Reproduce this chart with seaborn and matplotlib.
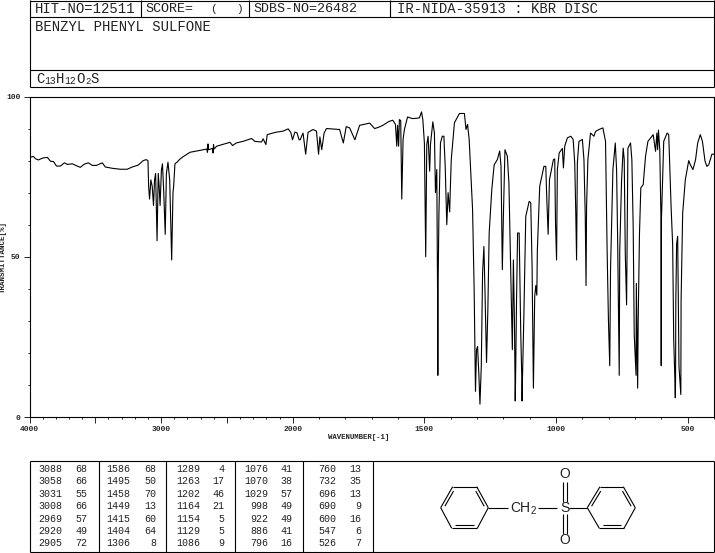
import numpy as np
import pandas as pd
import matplotlib
matplotlib.use("Agg")
import matplotlib.pyplot as plt
import seaborn as sns

# Spectrum, one pair of lists per region
wn_baseline = [4000, 3970, 3955, 3932, 3900, 3864, 3841, 3818, 3795, 3765, 3735, 3712, 3674, 3644, 3614,
               3583, 3553, 3523, 3492, 3447, 3424, 3371, 3310, 3258, 3220, 3174, 3136, 3114, 3100]
t_baseline = [81, 81.3, 80.6, 80.2, 80.8, 81, 79.8, 79.7, 78.3, 78.3, 79.3, 78.8, 79, 78.4, 77.9,
              78.9, 79.3, 78.5, 78.5, 79.3, 78, 77.6, 77.3, 77.3, 78, 78.6, 80, 80.3, 80]

wn_ch = [3095, 3088, 3078, 3068, 3058, 3050, 3042, 3031, 3022, 3015, 3008, 2998, 2990, 2980, 2969,
         2960, 2948, 2935, 2920, 2910, 2905, 2895, 2880, 2856, 2830, 2780, 2705]
t_ch = [72, 68, 74, 72, 66, 74, 76, 55, 76, 72, 66, 77, 79, 70, 57,
        76, 79.5, 74, 49, 70, 72, 79, 79.5, 80.5, 81.3, 82.6, 83.2]

wn_mid = [2654, 2648, 2644, 2640, 2610, 2606, 2602, 2598, 2578, 2477, 2457, 2430, 2378, 2313, 2288,
          2237, 2225, 2204, 2194, 2134, 2073, 2035, 2015, 2002, 1992, 1984, 1976, 1972, 1961, 1951,
          1942, 1923, 1910, 1902, 1897, 1890, 1881, 1872, 1822, 1808, 1797, 1784, 1764, 1746, 1708,
          1689, 1674, 1658, 1635]
t_mid = [83.6, 82.6, 85.2, 83.4, 83.8, 82.4, 85, 83.6, 84.5, 85.7, 84.7, 85.5, 86, 86.9, 86,
         85.8, 86.8, 85, 88.1, 88.8, 89.2, 89.9, 88.8, 86.5, 88.9, 88.7, 86.5, 86.5, 88.6, 82,
         88.8, 89.7, 89.2, 82, 87.4, 83.4, 88.6, 90, 89.7, 85.5, 90.6, 90.2, 86.5, 91, 91.7,
         90, 90.4, 91, 92.2]

wn_fp1 = [1620, 1610, 1605, 1602, 1598, 1595, 1590, 1586, 1581, 1576, 1564, 1545, 1519, 1511, 1506,
          1500, 1495, 1491, 1486, 1480, 1477, 1468, 1462, 1458, 1453, 1450, 1449, 1448, 1445, 1439,
          1432, 1426, 1421, 1415, 1410, 1404, 1402, 1398, 1386, 1367, 1348, 1342, 1336, 1330, 1317,
          1311, 1306, 1302, 1298, 1293, 1289, 1284, 1279, 1274, 1270, 1264, 1259, 1254, 1244, 1235,
          1223, 1214]
t_fp1 = [92.6, 91.3, 84.5, 91, 84.5, 92.8, 92.5, 68, 86.6, 89.7, 93.6, 93.1, 93.3, 95.2, 92.8,
         85.5, 50, 85, 87.6, 76.7, 85, 92.1, 88.6, 70, 77.2, 38, 13, 40, 62.6, 85.5,
         87.6, 87.6, 78.2, 60, 70, 64, 70, 80.3, 91.8, 94.7, 94.7, 89.7, 91.3, 86.6, 64.7,
         39.6, 8, 21, 22, 13, 4, 15.7, 45, 53.2, 39.6, 17, 33.4, 57.4, 71, 78.7,
         80.3, 83]

wn_fp2 = [1209, 1204, 1200, 1194, 1185, 1179, 1172, 1166, 1162, 1158, 1156, 1155, 1154, 1150, 1146,
          1140, 1134, 1130, 1129, 1128, 1122, 1115, 1102, 1096, 1091, 1086, 1081, 1077, 1073, 1071,
          1062, 1046, 1039, 1035, 1030, 1025, 1010, 1005, 1002, 998, 995, 988, 976, 972, 967,
          957, 944, 935, 929, 925, 922, 919, 913, 900, 894, 889, 886, 884, 879, 869,
          856, 850, 837, 822]
t_fp2 = [78.2, 46, 62.6, 83.4, 81.4, 73, 45, 21, 49, 30, 12, 5, 10, 36.5, 57.4,
         57.4, 26, 12, 5, 10, 32.4, 62.6, 67.3, 66.8, 47, 9, 37.6, 41, 38, 52,
         72, 78.2, 78.2, 67.8, 57, 74, 80.3, 80.5, 60.5, 49, 77.2, 82.4, 83.8, 77.7, 84.5,
         87.1, 87.6, 86.6, 79.3, 63.6, 49, 79.3, 86, 86.6, 80.3, 62.6, 41, 65.7, 80.3, 88.6,
         87.6, 89.1, 89.7, 90.2]

wn_fp3 = [812, 806, 801, 796, 793, 784, 775, 770, 766, 760, 758, 751, 745, 741, 737,
          732, 727, 717, 712, 707, 703, 696, 695, 690, 688, 683, 678, 669, 660, 651,
          631, 622, 617, 614, 611, 606, 601.5, 600.5, 599.5, 591, 578, 572, 563, 557, 553,
          548, 547, 546, 545, 542, 538, 533, 526, 525, 519, 509, 496, 490, 480, 470,
          462, 452, 444, 434, 427, 420, 408, 400]
t_fp3 = [86, 52, 30.3, 16, 46, 77.2, 85.5, 77.2, 55.3, 13, 52, 74, 83.9, 80.3, 51,
         35, 83.9, 85.5, 80.3, 59.5, 25.6, 13, 41.7, 9, 30, 57.4, 71.5, 72.5, 81.4, 86,
         88.1, 82.9, 88.6, 83.4, 89.5, 83.4, 62, 16, 62, 86, 88.6, 88.1, 65.7, 53.7, 24,
         10, 6, 12, 36.5, 54, 56.4, 15.7, 7, 36.5, 63.6, 74, 80, 78.7, 77.2, 80.3,
         85.5, 88.1, 86, 79.8, 78.2, 78.7, 82, 82]

# Peak table, read down each of the five columns
peak_wn = [3088, 3058, 3031, 3008, 2969, 2920, 2905,
           1586, 1495, 1458, 1449, 1415, 1404, 1306,
           1289, 1263, 1202, 1164, 1154, 1129, 1086,
           1076, 1070, 1029, 998, 922, 886, 796,
           760, 732, 696, 690, 600, 547, 526]
peak_t = [68, 66, 55, 66, 57, 49, 72,
          68, 50, 70, 13, 60, 64, 8,
          4, 17, 46, 21, 5, 5, 9,
          41, 38, 57, 49, 49, 41, 16,
          13, 35, 13, 9, 16, 6, 7]

x_major = [4000, 3500, 3000, 2500, 2000, 1500, 1000, 500]
x_labels = ["4000", "", "3000", "", "2000", "1500", "1000", "500"]
x_minor = list(range(3900, 400, -100)) + [400]
y_major = [0, 50, 100]
y_minor = [10, 20, 30, 40, 60, 70, 80, 90]

W, H = 715, 553
mono = "Liberation Mono"

sns.set_style("white")
plt.rcParams["font.family"] = [mono, "DejaVu Sans"]

spectrum = pd.DataFrame({
    "wavenumber": wn_baseline + wn_ch + wn_mid + wn_fp1 + wn_fp2 + wn_fp3,
    "transmittance": t_baseline + t_ch + t_mid + t_fp1 + t_fp2 + t_fp3,
})


# The x axis is twice as compressed above 2000 cm-1
def forward(x):
    x = np.asarray(x, dtype=float)
    return np.where(x < 2000, x, 2000 + (x - 2000) * 0.5)


def inverse(x):
    x = np.asarray(x, dtype=float)
    return np.where(x < 2000, x, 2000 + (x - 2000) * 2)


fig = plt.figure(figsize=(W / 100, H / 100), dpi=100, facecolor="white")

# Overlay in pixel coordinates for the header boxes, peak table and structure
over = fig.add_axes([0, 0, 1, 1], zorder=0)
over.set_xlim(0, W)
over.set_ylim(H, 0)
over.axis("off")


def seg(x0, y0, x1, y1, lw=0.8):
    over.plot([x0, x1], [y0, y1], color="black", lw=lw, solid_capstyle="butt")


def txt(x, y, s, size=10, ha="left", **kw):
    over.text(x, y, s, fontsize=size, ha=ha, va="center", color="#222222", **kw)


# Header
for y in [0.5, 17, 69.5, 87]:
    seg(29.5, y, 714, y)
seg(29.5, 0, 29.5, 87)
seg(714, 0, 714, 87)
for x in [140.7, 248.7, 390]:
    seg(x, 0, x, 17)
txt(35, 9, "HIT-NO=12511")
txt(145, 9, "SCORE=", size=9.6)
txt(210, 9, "(", size=8)
txt(236, 9, ")", size=8)
txt(253, 9, "SDBS-NO=26482", size=9.6)
txt(397, 9, "IR-NIDA-35913 : KBR DISC")
txt(35, 27, "BENZYL PHENYL SULFONE")
for x, y, s, size in [(36, 79, "C", 10), (44, 81.5, "13", 7), (56, 79, "H", 10), (64.5, 81.5, "12", 7),
                      (76.5, 79, "O", 10), (85, 81.5, "2", 6.5), (90.5, 79, "S", 10)]:
    txt(x, y, s, size=size)

# Peak table
for y in [460.7, 552.3]:
    seg(29.5, y, 714, y)
for x in [29.5, 98.7, 166.3, 235.3, 303.3, 372.7, 714]:
    seg(x, 460.7, x, 552.3)
wn_right = [62.7, 130, 200, 268.3, 336]
t_right = [87.3, 156, 224, 292.3, 361.7]
row_y = [469.3, 481.3, 494, 506, 518.7, 530.7, 543.3]
for i in range(len(peak_wn)):
    col, row = i // 7, i % 7
    txt(wn_right[col], row_y[row], str(peak_wn[i]), size=7.2, ha="right")
    txt(t_right[col], row_y[row], str(peak_t[i]), size=7.2, ha="right")

# Structure
left_ring = [(440.7, 507.7), (452.7, 486.7), (476.7, 486.7), (488.3, 507.7), (477.3, 528.3), (451.7, 528.3)]
right_ring = [(587.3, 507.7), (600, 486.7), (623.3, 486.7), (635.3, 507.7), (624, 528.3), (599.3, 528.3)]
for ring, doubles in [(left_ring, [0, 2, 4]), (right_ring, [0, 2, 4])]:
    cx = sum(p[0] for p in ring) / 6
    cy = sum(p[1] for p in ring) / 6
    for i in range(6):
        a, b = ring[i], ring[(i + 1) % 6]
        seg(a[0], a[1], b[0], b[1])
        if i in doubles:
            # inner line of the double bond, pulled towards the ring centre
            f = 0.86
            ax_, ay_ = cx + (a[0] - cx) * f, cy + (a[1] - cy) * f
            bx_, by_ = cx + (b[0] - cx) * f, cy + (b[1] - cy) * f
            seg(ax_ + (bx_ - ax_) * 0.08, ay_ + (by_ - ay_) * 0.08,
                bx_ - (bx_ - ax_) * 0.08, by_ - (by_ - ay_) * 0.08)
seg(488.3, 507.7, 507.7, 507.7)
seg(537.7, 507.7, 557.3, 507.7)
seg(569, 507.7, 587.3, 507.7)
for x in [562.7, 566.7]:
    seg(x, 481.7, x, 501.7)
    seg(x, 514, x, 534)
sans = "Liberation Sans"
txt(510, 507.5, "CH", size=10, family=sans)
txt(530.5, 511.5, "2", size=7, family=sans)
txt(564.7, 507.5, "S", size=10, ha="center", family=sans)
txt(564.7, 474.5, "O", size=10, ha="center", family=sans)
txt(564.7, 540, "O", size=10, ha="center", family=sans)

# Axis titles
txt(328, 437.5, "WAVENUMBER[-1]", size=5.3, fontweight="bold")
over.text(3.5, 257, "TRANSMITTANCE[%]", fontsize=5.4, fontweight="bold", rotation=90,
          ha="center", va="center", color="#222222")

# Spectrum
ax = fig.add_axes([29.5 / W, 1 - 417 / H, (714 - 29.5) / W, (417 - 96.5) / H], zorder=1)
ax.patch.set_alpha(0)
sns.lineplot(data=spectrum, x="wavenumber", y="transmittance", sort=False, estimator=None,
             color="black", lw=0.8, ax=ax)
ax.set_xscale("function", functions=(forward, inverse))
ax.set_xlim(4000, 400)
ax.set_ylim(0, 100)
ax.set_xlabel("")
ax.set_ylabel("")
for s in ax.spines.values():
    s.set_visible(True)
    s.set_color("black")
    s.set_linewidth(0.8)
ax.set_xticks(x_major)
ax.set_xticklabels(x_labels, fontsize=5.7, fontweight="bold")
ax.set_xticks(x_minor, minor=True)
ax.set_yticks(y_major)
ax.set_yticklabels(["0", "50", "100"], fontsize=5.7, fontweight="bold")
ax.set_yticks(y_minor, minor=True)
ax.tick_params(axis="both", which="major", bottom=True, left=True, length=4.5, width=0.7, pad=2)
ax.tick_params(axis="both", which="minor", bottom=True, left=True, length=1.6, width=0.7)
ax.grid(False)

fig.savefig("out.png", dpi=100)
plt.close(fig)
